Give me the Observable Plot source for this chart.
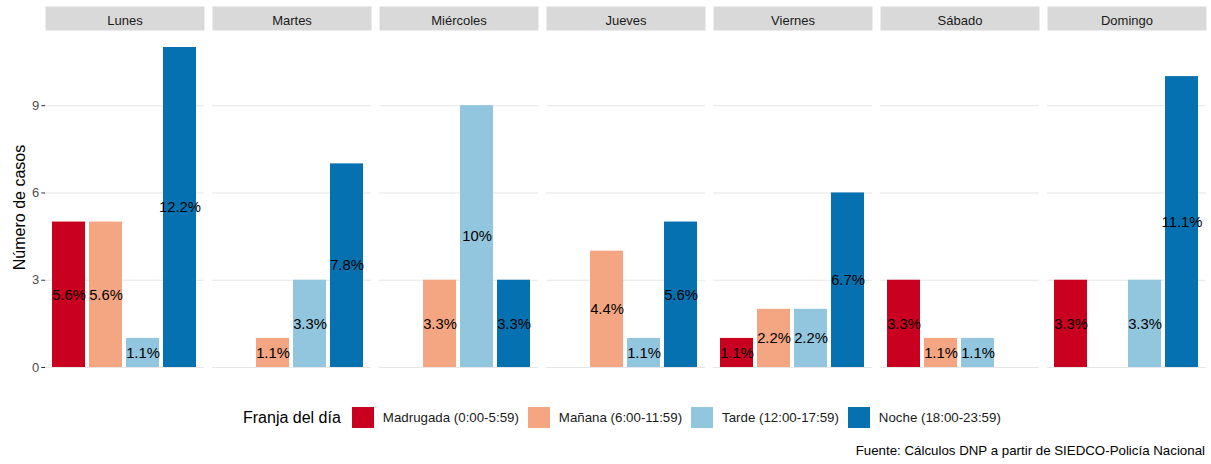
<!DOCTYPE html>
<html>
<head>
<meta charset="utf-8">
<script src="https://cdn.jsdelivr.net/npm/d3@7"></script>
<script src="https://cdn.jsdelivr.net/npm/@observablehq/plot@0.6"></script>
<style>
  html, body { margin: 0; padding: 0; background: #fff; }
  body { width: 1211px; height: 464px; overflow: hidden; position: relative;
         font-family: "Liberation Sans", Arial, sans-serif; }
  #chart { position: absolute; left: 0; top: 0; }
  #legend { position: absolute; left: 243px; top: 407px; display: flex; align-items: center; height: 21px; }
  #legend .title { font-size: 16px; color: #000; margin-right: 11px; white-space: nowrap; }
  #legend .key { width: 22px; height: 21px; margin-right: 9px; box-sizing: border-box; }
  #legend .lab { font-size: 13.3px; color: #1a1a1a; margin-right: 9px; white-space: nowrap; }
  #caption { position: absolute; right: 6px; top: 443px; font-size: 13.3px; line-height: 16px; color: #000; white-space: nowrap; }
</style>
</head>
<body>
<div id="chart"></div>
<div id="legend"></div>
<div id="caption"></div>
<script>
// ---- Data ----
const dias = ["Lunes", "Martes", "Miércoles", "Jueves", "Viernes", "Sábado", "Domingo"];
const franjas = ["Madrugada (0:00-5:59)", "Mañana (6:00-11:59)", "Tarde (12:00-17:59)", "Noche (18:00-23:59)"];
const colores = ["#CA0020", "#F4A582", "#92C5DE", "#0571B0"];
// number of cases per day, one array per time band (0 = no bar)
const madrugada = [5, 0, 0, 0, 1, 3, 3];
const manana    = [5, 1, 3, 4, 2, 1, 0];
const tarde     = [1, 3, 9, 1, 2, 1, 3];
const noche     = [11, 7, 3, 5, 6, 0, 10];
const yTicks = [0, 3, 6, 9];
const tituloY = "Número de casos";
const tituloLeyenda = "Franja del día";
const fuente = "Fuente: Cálculos DNP a partir de SIEDCO-Policía Nacional";

// ---- Build table ----
const series = [madrugada, manana, tarde, noche];
const total = d3.sum(series.flat());
const datos = [];
dias.forEach((dia, i) => {
  franjas.forEach((franja, j) => {
    const casos = series[j][i];
    if (casos > 0) {
      const p = Math.round(casos / total * 1000) / 10;
      datos.push({dia, franja, casos, pct: p + "%"});
    }
  });
});

const font = '"Liberation Sans", Arial, sans-serif';

const plot = Plot.plot({
  width: 1211,
  height: 395,
  marginTop: 31,
  marginBottom: 12,
  marginLeft: 44,
  marginRight: 4,
  style: {fontFamily: font, fontSize: "12.8px", background: "#fff", overflow: "visible"},
  fx: {domain: dias, paddingInner: 0.048, paddingOuter: 0, axis: null, label: null},
  x: {domain: franjas, paddingInner: 0.1, paddingOuter: 0.15, axis: null, label: null},
  y: {domain: [-0.55, 11.55], nice: false, axis: null, label: null},
  color: {domain: franjas, range: colores},
  marks: [
    Plot.frame({fill: "#D9D9D9", stroke: null, insetTop: -25, insetBottom: 353}),
    Plot.gridY(yTicks, {stroke: "#E6E6E6", strokeOpacity: 1, strokeWidth: 1.1}),
    Plot.axisY(yTicks, {tickSize: 3.7, tickPadding: 2.5, stroke: "#333333", fill: "#4D4D4D", fontSize: 13, label: null}),
    Plot.text([tituloY], {fx: () => dias[0], text: d => d, frameAnchor: "left", textAnchor: "middle", rotate: -90, dx: -26, fontSize: 16, fill: "#000"}),
    Plot.barY(datos, {fx: "dia", x: "franja", y: "casos", fill: "franja"}),
    Plot.text(datos, {fx: "dia", x: "franja", y: d => d.casos / 2, text: "pct", fill: "#000", fontSize: 14.8}),
    Plot.text(dias, {fx: d => d, text: d => d, frameAnchor: "top", dy: -16, fill: "#1A1A1A", fontSize: 13})
  ]
});
document.getElementById("chart").appendChild(plot);

// ---- Legend ----
const leg = d3.select("#legend");
leg.append("span").attr("class", "title").text(tituloLeyenda);
franjas.forEach((f, j) => {
  leg.append("span").attr("class", "key").style("background", colores[j]);
  leg.append("span").attr("class", "lab").text(f);
});
d3.select("#caption").text(fuente);
</script>
</body>
</html>
